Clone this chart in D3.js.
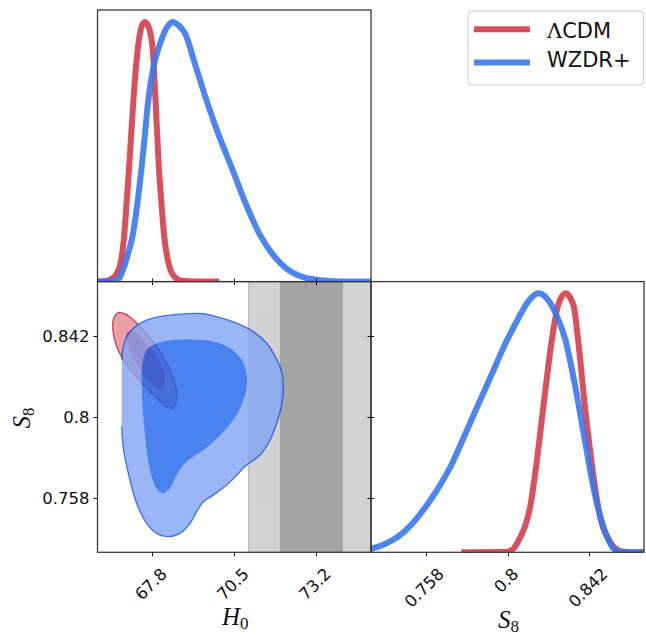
<!DOCTYPE html>
<html><head><meta charset="utf-8">
<script src="https://cdn.jsdelivr.net/npm/d3@7"></script>
<style>body{margin:0;background:#fff;} svg{display:block;}</style>
</head><body><svg id="c" width="646" height="635"></svg>
<script>
// ---------------- data ----------------
const seriesNames = ["ΛCDM", "WZDR+"];
const H0_ticks = [67.8, 70.5, 73.2];
const H0_tickLabels = ["67.8", "70.5", "73.2"];
const S8_ticks = [0.758, 0.8, 0.842];
const S8_tickLabels = ["0.758", "0.8", "0.842"];
const H0_range = [66, 75];
const S8_range = [0.73, 0.87];

// 1D marginal posteriors [value, normalised density]
const lcdm_H0 = [[66.0,0],[66.36,0.005],[66.58,0.023],[66.74,0.062],[66.88,0.179],[66.96,0.308],[67.04,0.438],[67.18,0.697],[67.32,0.891],[67.45,0.982],[67.56,1.0],[67.68,0.982],[67.82,0.891],[67.91,0.697],[68.02,0.438],[68.10,0.308],[68.19,0.179],[68.33,0.075],[68.50,0.023],[68.77,0.003],[69.26,0],[70.01,0]];
const wzdr_H0 = [[66.0,0],[66.52,0],[66.69,0.010],[66.85,0.049],[67.02,0.114],[67.16,0.179],[67.32,0.308],[67.45,0.438],[67.56,0.567],[67.67,0.697],[67.84,0.826],[68.06,0.917],[68.30,0.982],[68.47,1.0],[68.66,0.988],[68.88,0.956],[69.24,0.826],[69.59,0.697],[69.98,0.567],[70.42,0.438],[70.85,0.308],[71.35,0.179],[71.79,0.101],[72.23,0.049],[72.77,0.017],[73.43,0.004],[74.09,0],[75.0,0]];
const lcdm_S8 = [[0.7763,0],[0.7986,0.001],[0.8021,0.008],[0.8063,0.054],[0.8089,0.099],[0.8115,0.170],[0.8141,0.299],[0.8183,0.556],[0.8226,0.813],[0.8260,0.955],[0.8298,1.0],[0.8338,0.955],[0.8363,0.813],[0.8398,0.556],[0.8440,0.299],[0.8466,0.170],[0.8526,0.041],[0.8586,0.003],[0.8638,0],[0.87,0]];
const wzdr_S8 = [[0.73,0.013],[0.7369,0.031],[0.7438,0.060],[0.7506,0.106],[0.7575,0.170],[0.7644,0.247],[0.7712,0.337],[0.7781,0.453],[0.7849,0.569],[0.7918,0.685],[0.7986,0.801],[0.8055,0.903],[0.8106,0.968],[0.8158,1.0],[0.8201,0.981],[0.8243,0.929],[0.8295,0.826],[0.8346,0.646],[0.8398,0.427],[0.8449,0.221],[0.85,0.080],[0.8552,0.009],[0.8603,0],[0.87,0]];

// 2D contours [H0, S8]
const lcdm_outer = [[66.684,0.8540],[66.905,0.8533],[67.178,0.8502],[67.563,0.8441],[67.948,0.8364],[68.277,0.8278],[68.517,0.8191],[68.606,0.8123],[68.583,0.8071],[68.442,0.8045],[68.221,0.8057],[67.948,0.8097],[67.619,0.8148],[67.178,0.8226],[66.849,0.8295],[66.632,0.8364],[66.520,0.8433],[66.520,0.8502]];
const lcdm_inner = [[66.971,0.8435],[67.168,0.8442],[67.431,0.8414],[67.728,0.8362],[67.991,0.8305],[68.172,0.8243],[68.221,0.8186],[68.139,0.8147],[67.925,0.8153],[67.662,0.8191],[67.398,0.8248],[67.168,0.8310],[67.020,0.8367],[66.954,0.8409]];
const wzdr_outer = [[66.796,0.7950],[66.839,0.7855],[66.905,0.7788],[67.069,0.7674],[67.290,0.7553],[67.619,0.7450],[67.948,0.7398],[68.277,0.7381],[68.715,0.7398],[69.044,0.7450],[69.264,0.7510],[69.481,0.7562],[69.810,0.7596],[70.251,0.7648],[70.581,0.7700],[70.910,0.7752],[71.347,0.7803],[71.676,0.7881],[71.949,0.7993],[72.094,0.8097],[72.114,0.8166],[72.061,0.8234],[71.907,0.8295],[71.568,0.8381],[71.127,0.8441],[70.580,0.8485],[69.922,0.8519],[69.373,0.8535],[68.494,0.8528],[67.948,0.8516],[67.507,0.8493],[67.178,0.8459],[66.961,0.8415],[66.829,0.8347],[66.796,0.8295]];
const wzdr_inner = [[67.454,0.8166],[67.487,0.8045],[67.563,0.7907],[67.672,0.7769],[67.836,0.7665],[67.991,0.7620],[68.165,0.7605],[68.386,0.7631],[68.606,0.7700],[68.935,0.7769],[69.373,0.7816],[69.810,0.7872],[70.251,0.7942],[70.633,0.8027],[70.886,0.8131],[70.910,0.8217],[70.745,0.8295],[70.360,0.8355],[69.810,0.8390],[69.044,0.8401],[68.494,0.8398],[67.948,0.8381],[67.619,0.8347],[67.474,0.8269]];

// SH0ES H0 bands
const band1sigma = [72.0, 74.08];
const band2sigma = [70.96, 75.12];

// ---------------- styles ----------------
const RED = "#d63d48", BLUE = "#3977ee";
const FONT = "'DejaVu Sans', sans-serif";
const MATH = "'Liberation Serif', 'DejaVu Serif', serif";

const svg = d3.select("#c");
const P = {x0: 97.5, x1: 371, x2: 644, y0: 10, y1: 281.6, y2: 552.3};

const xH = d3.scaleLinear().domain(H0_range).range([P.x0, P.x1]);
const xS = d3.scaleLinear().domain(S8_range).range([P.x1, P.x2]);
const yS = d3.scaleLinear().domain(S8_range).range([P.y2, P.y1]);
const yTop = d3.scaleLinear().domain([0, 1]).range([P.y1, 22]);
const yBR = d3.scaleLinear().domain([0, 1]).range([P.y2, 293.3]);

const defs = svg.append("defs");
function clip(id, x, y, w, h) {
  defs.append("clipPath").attr("id", id).append("rect").attr("x", x).attr("y", y).attr("width", w).attr("height", h);
  return "url(#" + id + ")";
}
const cTL = clip("ctl", P.x0, P.y0, P.x1 - P.x0, P.y1 - P.y0);
const cBL = clip("cbl", P.x0, P.y1, P.x1 - P.x0, P.y2 - P.y1);
const cBR = clip("cbr", P.x1, P.y1, P.x2 - P.x1, P.y2 - P.y1);

// ---------- top-left: H0 marginal ----------
const gTL = svg.append("g").attr("clip-path", cTL);
const lineH = d3.line().x(d => xH(d[0])).y(d => yTop(d[1])).curve(d3.curveMonotoneX);
[[lcdm_H0, RED], [wzdr_H0, BLUE]].forEach(([data, col]) => {
  gTL.append("path").attr("d", lineH(data)).attr("fill", "none").attr("stroke", col)
    .attr("stroke-width", 6).attr("stroke-opacity", 0.9).attr("stroke-linejoin", "round");
});

// ---------- bottom-right: S8 marginal ----------
const gBR = svg.append("g").attr("clip-path", cBR);
const lineS = d3.line().x(d => xS(d[0])).y(d => yBR(d[1])).curve(d3.curveMonotoneX);
[[lcdm_S8, RED], [wzdr_S8, BLUE]].forEach(([data, col]) => {
  gBR.append("path").attr("d", lineS(data)).attr("fill", "none").attr("stroke", col)
    .attr("stroke-width", 6).attr("stroke-opacity", 0.9).attr("stroke-linejoin", "round");
});

// ---------- bottom-left: 2D ----------
const gBL = svg.append("g").attr("clip-path", cBL);
gBL.append("rect").attr("x", xH(band2sigma[0])).attr("y", P.y1)
  .attr("width", xH(band2sigma[1]) - xH(band2sigma[0])).attr("height", P.y2 - P.y1).attr("fill", "#d3d3d3");
gBL.append("line").attr("x1", xH(band2sigma[0]) + 0.5).attr("x2", xH(band2sigma[0]) + 0.5)
  .attr("y1", P.y1).attr("y2", P.y2).attr("stroke", "#bdbdbd").attr("stroke-width", 1.2);
gBL.append("rect").attr("x", xH(band1sigma[0])).attr("y", P.y1)
  .attr("width", xH(band1sigma[1]) - xH(band1sigma[0])).attr("height", P.y2 - P.y1).attr("fill", "#a4a4a4");

const closed = d3.line().x(d => xH(d[0])).y(d => yS(d[1])).curve(d3.curveCatmullRomClosed.alpha(0.5));
const open = d3.line().x(d => xH(d[0])).y(d => yS(d[1])).curve(d3.curveCatmullRom.alpha(0.5));

const gRed = gBL.append("g");
gRed.append("path").attr("d", closed(lcdm_outer)).attr("fill", "#e9a2a7").attr("stroke", "#d93a48").attr("stroke-width", 1.3);
gRed.append("path").attr("d", closed(lcdm_inner)).attr("fill", "#d8505e");

const gBlue = gBL.append("g").attr("opacity", 0.8);
gBlue.append("path").attr("d", open(wzdr_outer) + "Z").attr("fill", "#83a4f2");
gBlue.append("path").attr("d", closed(wzdr_inner)).attr("fill", "#1d63ec");
gBlue.append("path").attr("d", open(wzdr_outer)).attr("fill", "none").attr("stroke", "#1250e6").attr("stroke-width", 1.4);

// ---------- spines ----------
const spine = {fill: "none", stroke: "#333", "stroke-width": 1.25};
[[P.x0, P.y0, P.x1, P.y1], [P.x0, P.y1, P.x1, P.y2], [P.x1, P.y1, P.x2, P.y2]].forEach(([a, b, c, d]) => {
  const r = svg.append("rect").attr("x", a).attr("y", b).attr("width", c - a).attr("height", d - b);
  Object.entries(spine).forEach(([k, v]) => r.attr(k, v));
});

// ---------- ticks ----------
const tk = svg.append("g").attr("stroke", "#111").attr("stroke-width", 1);
H0_ticks.forEach(t => {
  const x = Math.round(xH(t)) + 0.5;
  tk.append("line").attr("x1", x).attr("x2", x).attr("y1", P.y1 - 3).attr("y2", P.y1 + 3.5);
  tk.append("line").attr("x1", x).attr("x2", x).attr("y1", P.y2).attr("y2", P.y2 + 4);
});
S8_ticks.forEach(t => {
  const y = Math.round(yS(t)) + 0.5;
  tk.append("line").attr("x1", P.x0 - 4).attr("x2", P.x0).attr("y1", y).attr("y2", y);
  tk.append("line").attr("x1", P.x1 - 3.5).attr("x2", P.x1 + 3).attr("y1", y).attr("y2", y);
  const x = Math.round(xS(t)) + 0.5;
  tk.append("line").attr("x1", x).attr("x2", x).attr("y1", P.y2).attr("y2", P.y2 + 4);
});

// ---------- tick labels ----------
const FS = 16.5;
function xLabel(x, txt) {
  const g = svg.append("g");
  const t = g.append("text").text(txt).attr("font-family", FONT).attr("font-size", FS)
    .attr("fill", "#111").attr("text-anchor", "middle").attr("dominant-baseline", "central")
    .attr("transform", "rotate(-45)");
  const w = t.node().getComputedTextLength();
  const half = (w + 0.72 * FS) / (2 * Math.SQRT2);
  g.attr("transform", `translate(${x - 1.2},${567 + half})`);
}
H0_ticks.forEach((t, i) => xLabel(xH(t), H0_tickLabels[i]));
S8_ticks.forEach((t, i) => xLabel(xS(t), S8_tickLabels[i]));
S8_ticks.forEach((t, i) => {
  svg.append("text").text(S8_tickLabels[i]).attr("x", 89.5).attr("y", yS(t) + 0.5)
    .attr("font-family", FONT).attr("font-size", FS).attr("fill", "#111")
    .attr("text-anchor", "end").attr("dominant-baseline", "central");
});

// ---------- axis labels ----------
function mathLabel(sel, main, sub) {
  sel.attr("font-family", MATH).attr("font-size", 25).attr("fill", "#111").attr("text-anchor", "middle");
  sel.append("tspan").text(main).attr("font-style", "italic");
  sel.append("tspan").text(sub).attr("font-size", 17).attr("dy", 4);
}
mathLabel(svg.append("text").attr("x", (P.x0 + P.x1) / 2 + 1).attr("y", 625), "H", "0");
mathLabel(svg.append("text").attr("x", (P.x1 + P.x2) / 2 + 1).attr("y", 627.5), "S", "8");
mathLabel(svg.append("text").attr("transform", "translate(30,418) rotate(-90)"), "S", "8");

// ---------- legend ----------
const lg = svg.append("g");
lg.append("rect").attr("x", 468).attr("y", 11).attr("width", 175.5).attr("height", 74).attr("rx", 4)
  .attr("fill", "#fff").attr("fill-opacity", 0.8).attr("stroke", "#cccccc").attr("stroke-width", 1);
[[RED, 29.2, 37.5], [BLUE, 62.5, 66.7]].forEach(([col, ly, ty], i) => {
  lg.append("line").attr("x1", 474).attr("x2", 530).attr("y1", ly).attr("y2", ly)
    .attr("stroke", col).attr("stroke-width", 6).attr("stroke-opacity", 0.9);
  const t = lg.append("text").attr("x", 547).attr("y", ty).attr("font-family", FONT).attr("font-size", 21).attr("fill", "#111");
  if (i === 0) {
    t.append("tspan").text(seriesNames[0].slice(0, 1)).attr("font-family", "'DejaVu Serif', serif");
    t.append("tspan").text(seriesNames[0].slice(1));
  } else {
    t.append("tspan").text(seriesNames[1].slice(0, -1));
    t.append("tspan").text(seriesNames[1].slice(-1)).attr("font-family", "'DejaVu Serif', serif").attr("font-weight", 300);
  }
});
</script></body></html>
